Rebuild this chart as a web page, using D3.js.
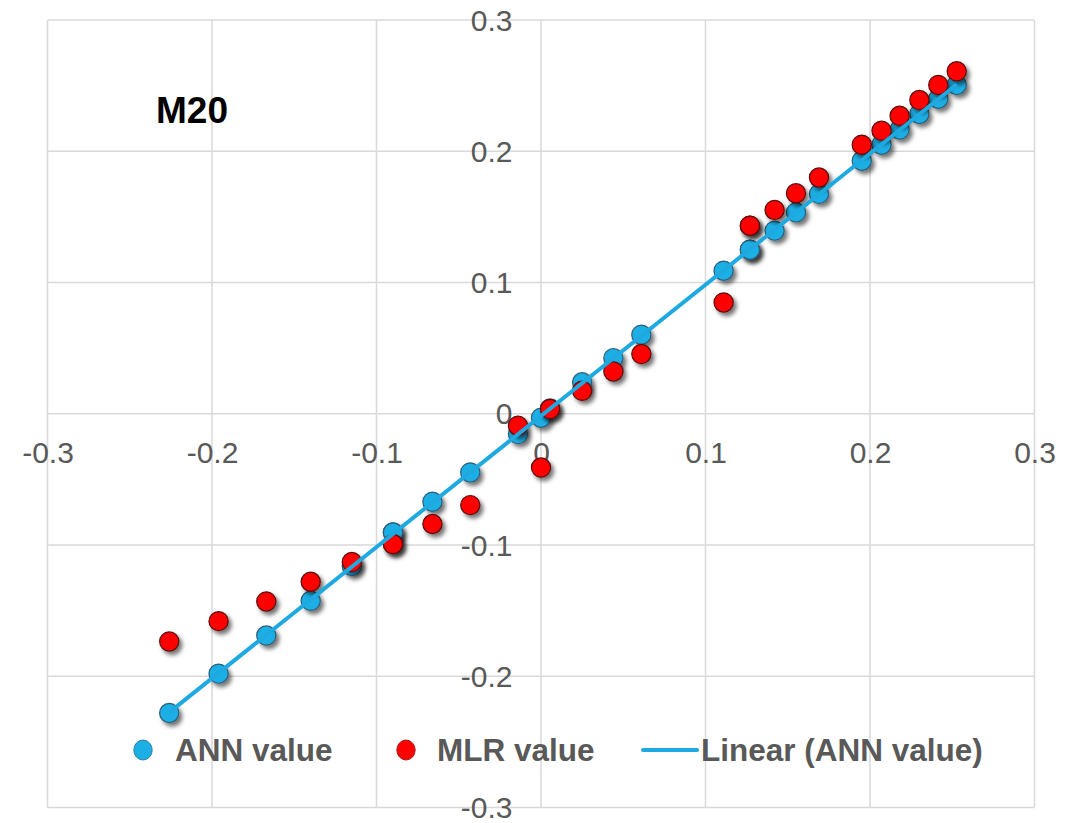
<!DOCTYPE html>
<html>
<meta charset="utf-8">
<style>
  body { margin: 0; background: #fff; }
  svg text { font-family: "Liberation Sans", Arial, sans-serif; }
</style>
<script src="https://d3js.org/d3.v7.min.js"></script>

<div id="chart_div"></div>

<script>

// observed values (x) and the two model predictions (y)
var xValues   = [-0.226, -0.196, -0.167, -0.140, -0.115, -0.090, -0.090, -0.066, -0.043, -0.014, 0.000, 0.0055, 0.025, 0.044, 0.061, 0.111, 0.127, 0.127, 0.142, 0.155, 0.169, 0.195, 0.207, 0.218, 0.230, 0.2415, 0.2527]
var annValues = [-0.228, -0.198, -0.169, -0.1425, -0.116, -0.0905, -0.0905, -0.067, -0.0447, -0.0155, -0.003, 0.004, 0.024, 0.0424, 0.0602, 0.109, 0.125, 0.125, 0.1395, 0.1534, 0.1675, 0.1928, 0.205, 0.2165, 0.2284, 0.240, 0.2505]
var mlrValues = [-0.1735, -0.158, -0.143, -0.128, -0.113, -0.0993, -0.0993, -0.084, -0.0696, -0.0091, -0.041, 0.0036, 0.0175, 0.0322, 0.0455, 0.0848, 0.1433, 0.1433, 0.1553, 0.168, 0.180, 0.205, 0.2157, 0.227, 0.239, 0.2505, 0.2609]

var tickValues = [-0.3, -0.2, -0.1, 0, 0.1, 0.2, 0.3]
var tickLabels = ["-0.3", "-0.2", "-0.1", "0", "0.1", "0.2", "0.3"]
var seriesNames = ["ANN value", "MLR value", "Linear (ANN value)"]
var chartTitle = "M20"

var W = 1086, H = 823

var svg = d3.select("#chart_div")
  .append("svg")
    .attr("width", W)
    .attr("height", H)

var defs = svg.append("defs")
var shadow = defs.append("filter")
  .attr("id", "shadow")
  .attr("x", "-50%").attr("y", "-50%")
  .attr("width", "200%").attr("height", "200%")
shadow.append("feDropShadow")
  .attr("dx", 3).attr("dy", 3.5)
  .attr("stdDeviation", 2.2)
  .attr("flood-color", "#000")
  .attr("flood-opacity", 0.55)

var x = d3.scaleLinear()
  .domain([-0.3, 0.3])
  .range([47.5, 1034.5])

var y = d3.scaleLinear()
  .domain([-0.3, 0.3])
  .range([807.5, 20])

// gridlines
svg.append("g").selectAll("line")
  .data(tickValues)
  .enter().append("line")
    .attr("x1", function(d) { return x(d) })
    .attr("x2", function(d) { return x(d) })
    .attr("y1", y(0.3))
    .attr("y2", y(-0.3))
    .attr("stroke", "#d9d9d9")
    .attr("stroke-width", 1.5)

svg.append("g").selectAll("line")
  .data(tickValues)
  .enter().append("line")
    .attr("x1", x(-0.3))
    .attr("x2", x(0.3))
    .attr("y1", function(d) { return y(d) })
    .attr("y2", function(d) { return y(d) })
    .attr("stroke", "#d9d9d9")
    .attr("stroke-width", 1.5)

// axes crossing at zero, labels only
var labelOf = function(d) { return tickLabels[tickValues.indexOf(d)] }

var xAxis = svg.append("g")
  .attr("transform", "translate(0," + y(0) + ")")
  .call(d3.axisBottom(x).tickValues(tickValues).tickFormat(labelOf).tickSize(0).tickPadding(27.5))
var yAxis = svg.append("g")
  .attr("transform", "translate(" + x(0) + ",0)")
  .call(d3.axisLeft(y).tickValues(tickValues).tickFormat(labelOf).tickSize(0).tickPadding(28.5))

svg.selectAll(".domain").remove()
svg.selectAll(".tick text")
  .attr("fill", "#595959")
  .style("font-size", "30px")
  .style("font-family", "'Liberation Sans', Arial, sans-serif")
yAxis.selectAll(".tick text").attr("dy", "0.34em")

// points
var pts = xValues.map(function(v, i) { return {x: v, ann: annValues[i], mlr: mlrValues[i]} })

svg.append("g").selectAll("circle")
  .data(pts)
  .enter().append("circle")
    .attr("cx", function(d) { return x(d.x) })
    .attr("cy", function(d) { return y(d.ann) })
    .attr("r", 9.6)
    .attr("fill", "#1cafe5")
    .attr("stroke", "#2d5f7a")
    .attr("stroke-width", 1.2)
    .attr("filter", "url(#shadow)")

svg.append("g").selectAll("circle")
  .data(pts)
  .enter().append("circle")
    .attr("cx", function(d) { return x(d.x) })
    .attr("cy", function(d) { return y(d.mlr) })
    .attr("r", 9.6)
    .attr("fill", "#ff0000")
    .attr("stroke", "#5a0d0d")
    .attr("stroke-width", 1.2)
    .attr("filter", "url(#shadow)")

// least squares trendline of ANN value
var mx = d3.mean(xValues), my = d3.mean(annValues)
var sxy = d3.sum(xValues, function(v, i) { return (v - mx) * (annValues[i] - my) })
var sxx = d3.sum(xValues, function(v) { return (v - mx) * (v - mx) })
var slope = sxy / sxx, icpt = my - slope * mx
var ext = d3.extent(xValues)

svg.append("line")
  .attr("x1", x(ext[0])).attr("y1", y(slope * ext[0] + icpt))
  .attr("x2", x(ext[1])).attr("y2", y(slope * ext[1] + icpt))
  .attr("stroke", "#1fa9e1")
  .attr("stroke-width", 4)

// title
svg.append("text")
  .attr("x", 156)
  .attr("y", 123)
  .attr("fill", "#000")
  .style("font-size", "37px")
  .style("font-weight", "bold")
  .text(chartTitle)

// legend
var legend = svg.append("g").attr("transform", "translate(0,750)")
var legendText = function(tx, s) {
  legend.append("text")
    .attr("x", tx).attr("y", 10.5)
    .attr("fill", "#595959")
    .style("font-size", "31.5px")
    .style("font-weight", "bold")
    .text(s)
}
legend.append("ellipse").attr("cx", 143).attr("cy", 0).attr("rx", 9.2).attr("ry", 10)
  .attr("fill", "#1cafe5").attr("stroke", "#2d7ea6").attr("stroke-width", 1)
legendText(175, seriesNames[0])
legend.append("ellipse").attr("cx", 406).attr("cy", 0).attr("rx", 9.2).attr("ry", 10)
  .attr("fill", "#ff0000").attr("stroke", "#a02020").attr("stroke-width", 1)
legendText(437, seriesNames[1])
legend.append("line").attr("x1", 643).attr("x2", 697).attr("y1", 0).attr("y2", 0)
  .attr("stroke", "#1fa9e1").attr("stroke-width", 4).attr("stroke-linecap", "round")
legendText(701, seriesNames[2])

</script>
</html>
